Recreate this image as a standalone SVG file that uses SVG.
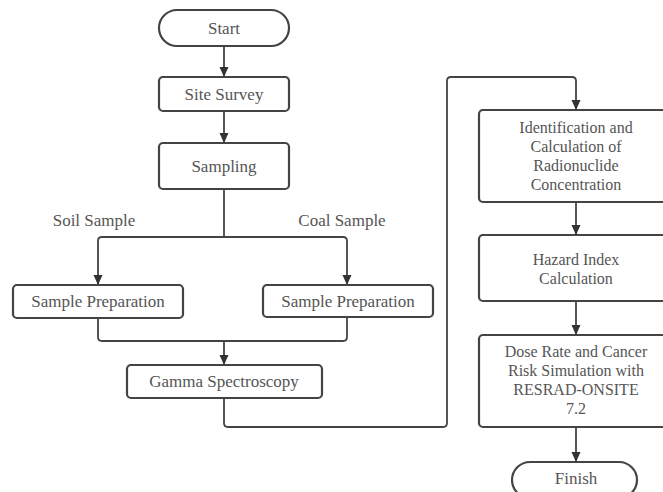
<svg xmlns="http://www.w3.org/2000/svg" width="663" height="492" viewBox="0 0 663 492">
<defs>
<marker id="arr" viewBox="0 0 10 10" refX="10" refY="5" markerWidth="10" markerHeight="10" markerUnits="userSpaceOnUse" orient="auto">
<path d="M0,0.5 L10,5 L0,9.5 Z" fill="#333"/>
</marker>
</defs>
<style>
.box{fill:#fff;stroke:#444;stroke-width:2.2}
.t{font-family:'Liberation Serif','DejaVu Serif',serif;font-size:17px;fill:#555;text-anchor:middle;dominant-baseline:central}
.m{font-size:16px}
.c{fill:none;stroke:#444;stroke-width:1.8}
.a{marker-end:url(#arr)}
</style>
<rect width="663" height="492" fill="#fff"/>
<g id="connectors">
<path class="c a" d="M224,46 V77"/>
<path class="c a" d="M224,111 V143"/>
<path class="c" d="M224,189 V237"/>
<path class="c a" d="M224,237 H102 Q98,237 98,241 V285"/>
<path class="c a" d="M224,237 H343 Q347,237 347,241 V285"/>
<path class="c" d="M98,318 V337 Q98,341 102,341 H224"/>
<path class="c" d="M347,317 V337 Q347,341 343,341 H224"/>
<path class="c a" d="M224,341 V365"/>
<path class="c a" d="M224,398 V423 Q224,427 228,427 H443 Q447,427 447,423 V81 Q447,77 451,77 H572 Q576,77 576,81 V110"/>
<path class="c a" d="M576,202 V235"/>
<path class="c a" d="M576,301 V335"/>
<path class="c a" d="M576,427 V462"/>
</g>
<g id="start">
<rect class="box" x="159" y="10" width="130" height="36" rx="18"/>
<text class="t" x="224" y="28">Start</text>
</g>
<g id="site-survey">
<rect class="box" x="159" y="77" width="130" height="34" rx="4"/>
<text class="t" x="224" y="94">Site Survey</text>
</g>
<g id="sampling">
<rect class="box" x="159" y="143" width="130" height="46" rx="4"/>
<text class="t" x="224" y="166">Sampling</text>
</g>
<g id="soil-label">
<text class="t" x="94" y="220">Soil Sample</text>
</g>
<g id="coal-label">
<text class="t" x="342" y="220">Coal Sample</text>
</g>
<g id="prep-soil">
<rect class="box" x="13" y="285" width="170" height="33" rx="4"/>
<text class="t" x="98" y="301">Sample Preparation</text>
</g>
<g id="prep-coal">
<rect class="box" x="263" y="285" width="170" height="32" rx="4"/>
<text class="t" x="348" y="301">Sample Preparation</text>
</g>
<g id="gamma">
<rect class="box" x="127" y="365" width="195" height="33" rx="4"/>
<text class="t" x="224" y="381">Gamma Spectroscopy</text>
</g>
<g id="identification">
<rect class="box" x="479" y="110" width="194" height="92" rx="4"/>
<text class="t m" x="576" y="127">Identification and</text>
<text class="t m" x="576" y="146">Calculation of</text>
<text class="t m" x="576" y="165">Radionuclide</text>
<text class="t m" x="576" y="184">Concentration</text>
</g>
<g id="hazard">
<rect class="box" x="479" y="235" width="194" height="66" rx="4"/>
<text class="t m" x="576" y="259">Hazard Index</text>
<text class="t m" x="576" y="278">Calculation</text>
</g>
<g id="dose">
<rect class="box" x="479" y="335" width="194" height="92" rx="4"/>
<text class="t m" x="576" y="351">Dose Rate and Cancer</text>
<text class="t m" x="576" y="370">Risk Simulation with</text>
<text class="t m" x="576" y="389">RESRAD-ONSITE</text>
<text class="t m" x="576" y="408">7.2</text>
</g>
<g id="finish">
<rect class="box" x="512" y="462" width="125" height="36" rx="18"/>
<text class="t" x="576" y="478">Finish</text>
</g>
</svg>
